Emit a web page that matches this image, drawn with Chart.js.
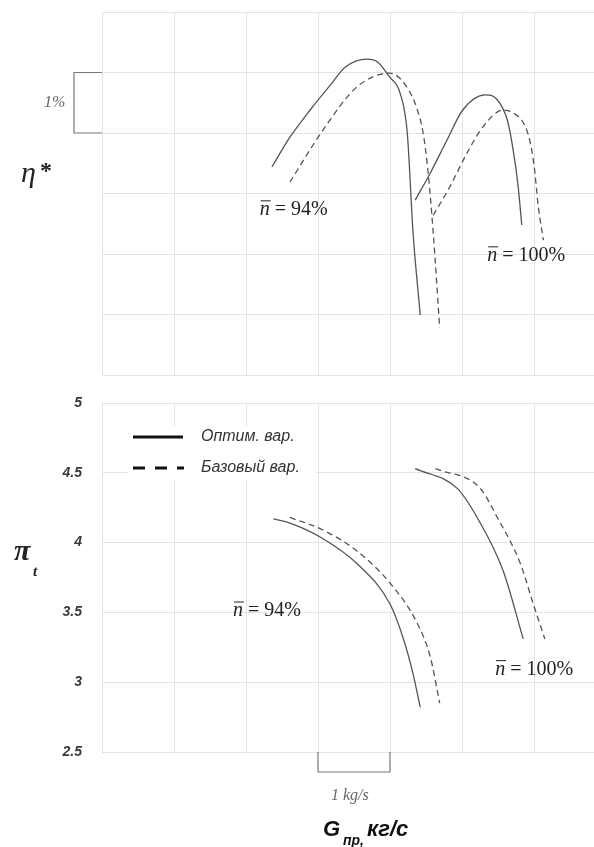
<!DOCTYPE html>
<html>
<head>
<meta charset="utf-8">
<script src="https://cdn.jsdelivr.net/npm/chart.js"></script>
<style>
  body { margin: 0; background: #fff; width: 594px; height: 847px; overflow: hidden; position: relative; }
  .box { position: absolute; left: 0; width: 594px; }
  #topBox { top: 0; height: 390px; }
  #botBox { top: 390px; height: 457px; }
</style>
</head>
<body>
<div class="box" id="topBox"><canvas id="etaChart"></canvas></div>
<div class="box" id="botBox"><canvas id="piChart"></canvas></div>
<script>
// x : расход, шаг сетки 1 кг/с (без подписей)
const xMin = 0;
const xMax = 6.833;

// η* (относительные единицы, шаг сетки 1%)
const etaOpt94X = [2.36, 2.61, 2.89, 3.17, 3.38, 3.68, 3.83, 3.99, 4.14, 4.24, 4.32, 4.42];
const etaOpt94Y = [3.44, 3.93, 4.38, 4.79, 5.09, 5.22, 5.17, 4.93, 4.66, 4.00, 2.35, 0.99];
const etaBase94X = [2.61, 3.07, 3.54, 4.00, 4.14, 4.30, 4.38, 4.46, 4.53, 4.60, 4.69];
const etaBase94Y = [3.19, 4.05, 4.76, 4.99, 4.90, 4.62, 4.38, 4.00, 3.34, 2.35, 0.78];
const etaOpt100X = [4.35, 4.56, 4.79, 5.01, 5.32, 5.49, 5.63, 5.71, 5.78, 5.83];
const etaOpt100Y = [2.89, 3.34, 3.88, 4.38, 4.63, 4.55, 4.21, 3.72, 3.11, 2.48];
const etaBase100X = [4.60, 4.83, 5.07, 5.29, 5.57, 5.74, 5.86, 5.94, 6.00, 6.06, 6.13];
const etaBase100Y = [2.64, 3.11, 3.67, 4.10, 4.38, 4.31, 4.15, 3.88, 3.47, 2.78, 2.23];

// π_t
const piOpt94X = [2.38, 2.61, 3.03, 3.54, 4.00, 4.18, 4.32, 4.42];
const piOpt94Y = [4.17, 4.14, 4.04, 3.85, 3.56, 3.32, 3.06, 2.82];
const piBase94X = [2.61, 3.07, 3.54, 4.00, 4.38, 4.56, 4.69];
const piBase94Y = [4.18, 4.09, 3.94, 3.71, 3.42, 3.18, 2.85];
const piOpt100X = [4.35, 4.93, 5.21, 5.57, 5.85];
const piOpt100Y = [4.53, 4.39, 4.18, 3.80, 3.31];
const piBase100X = [4.63, 5.25, 5.49, 5.81, 5.99, 6.15];
const piBase100Y = [4.53, 4.39, 4.18, 3.85, 3.56, 3.31];

const piTicks = [2.5, 3, 3.5, 4, 4.5, 5];
const legendLabels = ['Оптим. вар.', 'Базовый вар.'];

const LINE = '#555';
const GRID = '#e3e3e3';

function pts(xs, ys) {
    return xs.map((x, i) => ({ x: x, y: ys[i] }));
}

function curve(xs, ys, dashed) {
    return {
        data: pts(xs, ys),
        borderColor: LINE,
        borderWidth: 1.3,
        borderDash: dashed ? [6, 4] : [],
        pointRadius: 0,
        fill: false,
        cubicInterpolationMode: 'monotone'
    };
}

// подпись n̄ = ...% в координатах данных
function speedLabel(ctx, chart, xv, yv, text) {
    const x = chart.scales.x.getPixelForValue(xv);
    const y = chart.scales.y.getPixelForValue(yv);
    ctx.save();
    ctx.fillStyle = '#222';
    ctx.textBaseline = 'middle';
    ctx.textAlign = 'left';
    ctx.font = 'italic 20px "Liberation Serif"';
    ctx.fillText('n', x, y);
    const nw = ctx.measureText('n').width;
    ctx.strokeStyle = '#222';
    ctx.lineWidth = 1;
    ctx.beginPath();
    ctx.moveTo(x + 1, y - 9);
    ctx.lineTo(x + nw + 1, y - 9);
    ctx.stroke();
    ctx.font = '20px "Liberation Serif"';
    ctx.fillText(text, x + nw, y);
    ctx.restore();
}

function baseOptions(yMin, yMax, yStep, showY, pad) {
    return {
        responsive: true,
        maintainAspectRatio: false,
        animation: false,
        layout: { padding: pad },
        plugins: { legend: { display: false }, tooltip: { enabled: false } },
        scales: {
            x: {
                type: 'linear',
                min: xMin,
                max: xMax,
                ticks: { display: false, stepSize: 1, includeBounds: false },
                grid: { color: GRID, drawTicks: false },
                border: { display: false },
                afterFit: s => { s.height = 0; s.paddingLeft = 0; s.paddingRight = 0; }
            },
            y: {
                min: yMin,
                max: yMax,
                ticks: {
                    display: showY,
                    stepSize: yStep,
                    padding: 20,
                    color: '#3a3a3a',
                    font: { family: 'Liberation Sans', size: 14, style: 'italic', weight: 'bold' },
                    callback: v => String(v)
                },
                grid: { color: GRID, drawTicks: false },
                border: { display: false },
                afterFit: s => { s.width = 102; s.paddingTop = 0; s.paddingBottom = 0; }
            }
        }
    };
}

const etaDecor = {
    id: 'etaDecor',
    afterDraw(chart) {
        const ctx = chart.ctx;
        const sx = chart.scales.x, sy = chart.scales.y;
        ctx.save();
        // η*
        ctx.fillStyle = '#222';
        ctx.textBaseline = 'alphabetic';
        ctx.font = 'italic 30px "Liberation Serif"';
        ctx.fillText('η', 21, 182);
        ctx.font = 'bold 24px "Liberation Serif"';
        ctx.fillText('*', 40, 178);
        // скобка 1%
        const y1 = sy.getPixelForValue(5), y2 = sy.getPixelForValue(4);
        const xl = 74, xr = sx.getPixelForValue(0);
        ctx.strokeStyle = '#777';
        ctx.lineWidth = 1.2;
        ctx.beginPath();
        ctx.moveTo(xr, y1); ctx.lineTo(xl, y1); ctx.lineTo(xl, y2); ctx.lineTo(xr, y2);
        ctx.stroke();
        ctx.fillStyle = '#666';
        ctx.textBaseline = 'middle';
        ctx.font = 'italic 16px "Liberation Serif"';
        ctx.fillText('1%', 44, (y1 + y2) / 2);
        ctx.restore();
        speedLabel(ctx, chart, 2.19, 2.73, ' = 94%');
        speedLabel(ctx, chart, 5.35, 1.97, ' = 100%');
    }
};

const piDecor = {
    id: 'piDecor',
    beforeDatasetsDraw(chart) {
        const ctx = chart.ctx;
        ctx.save();
        ctx.fillStyle = '#fff';
        ctx.fillRect(128, 36, 188, 54);
        ctx.restore();
    },
    afterDraw(chart) {
        const ctx = chart.ctx;
        const sx = chart.scales.x;
        ctx.save();
        // легенда
        ctx.strokeStyle = '#111';
        ctx.lineWidth = 3;
        ctx.beginPath();
        ctx.moveTo(133, 47); ctx.lineTo(183, 47);
        ctx.stroke();
        ctx.setLineDash([12, 10]);
        ctx.beginPath();
        ctx.moveTo(133, 78); ctx.lineTo(184, 78);
        ctx.stroke();
        ctx.setLineDash([]);
        ctx.fillStyle = '#333';
        ctx.textBaseline = 'middle';
        ctx.font = 'italic 16px "Liberation Sans"';
        ctx.fillText(legendLabels[0], 201, 47);
        ctx.fillText(legendLabels[1], 201, 78);
        // π_t
        ctx.fillStyle = '#222';
        ctx.textBaseline = 'alphabetic';
        ctx.font = 'italic bold 30px "Liberation Serif"';
        ctx.fillText('π', 14, 170);
        ctx.font = 'italic bold 15px "Liberation Serif"';
        ctx.fillText('t', 33, 186);
        // скобка 1 kg/s
        const bx1 = sx.getPixelForValue(3), bx2 = sx.getPixelForValue(4);
        const by1 = chart.chartArea.bottom, by2 = by1 + 20;
        ctx.strokeStyle = '#777';
        ctx.lineWidth = 1.2;
        ctx.beginPath();
        ctx.moveTo(bx1, by1); ctx.lineTo(bx1, by2); ctx.lineTo(bx2, by2); ctx.lineTo(bx2, by1);
        ctx.stroke();
        ctx.fillStyle = '#666';
        ctx.font = 'italic 16px "Liberation Serif"';
        ctx.fillText('1 kg/s', 331, 410);
        // G пр, кг/с
        ctx.fillStyle = '#111';
        ctx.font = 'italic bold 22px "Liberation Sans"';
        ctx.fillText('G', 323, 446);
        ctx.font = 'italic bold 14px "Liberation Sans"';
        ctx.fillText('пр,', 343, 455);
        ctx.font = 'italic bold 22px "Liberation Sans"';
        ctx.fillText('кг/с', 367, 446);
        ctx.restore();
        speedLabel(ctx, chart, 1.82, 3.51, ' = 94%');
        speedLabel(ctx, chart, 5.46, 3.09, ' = 100%');
    }
};

new Chart(document.getElementById('etaChart'), {
    type: 'line',
    data: {
        datasets: [
            curve(etaOpt94X, etaOpt94Y, false),
            curve(etaBase94X, etaBase94Y, true),
            curve(etaOpt100X, etaOpt100Y, false),
            curve(etaBase100X, etaBase100Y, true)
        ]
    },
    options: baseOptions(0, 6, 1, false, { top: 12, bottom: 15, left: 0, right: 0 }),
    plugins: [etaDecor]
});

const piOpts = baseOptions(piTicks[0], piTicks[piTicks.length - 1], 0.5, true, { top: 13, bottom: 95, left: 0, right: 0 });
new Chart(document.getElementById('piChart'), {
    type: 'line',
    data: {
        datasets: [
            curve(piOpt94X, piOpt94Y, false),
            curve(piBase94X, piBase94Y, true),
            curve(piOpt100X, piOpt100Y, false),
            curve(piBase100X, piBase100Y, true)
        ]
    },
    options: piOpts,
    plugins: [piDecor]
});
</script>
</body>
</html>
